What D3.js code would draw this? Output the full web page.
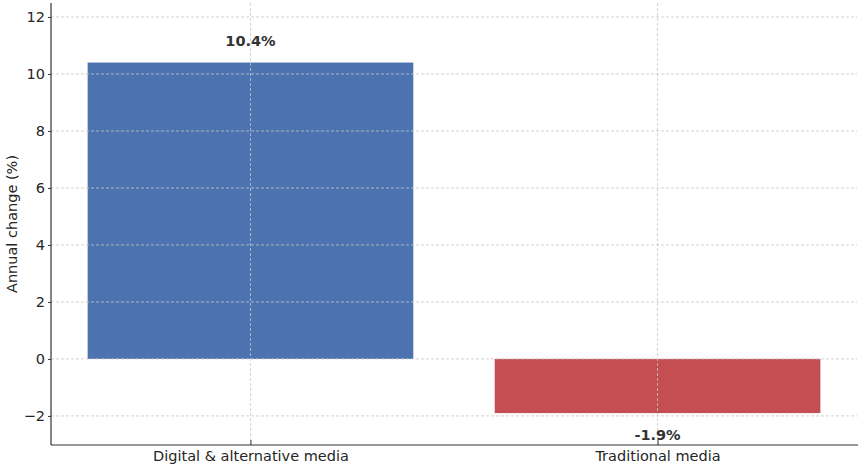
<!DOCTYPE html>
<html><head><meta charset="utf-8">
<script src="https://cdn.jsdelivr.net/npm/d3@7"></script>
<style>body{margin:0;background:#fff}svg{display:block}text{font-family:"DejaVu Sans",sans-serif}</style>
</head><body>
<svg id="c" width="858" height="467"></svg>
<script>
const categories = ["Digital & alternative media", "Traditional media"];
const values = [10.4, -1.9];
const labels = ["10.4%", "-1.9%"];
const colors = ["#4C72B0", "#C44E52"];
const yTicks = [-2, 0, 2, 4, 6, 8, 10, 12];

const svg = d3.select("#c");
const L = 51, R = 857, T = 3, B = 445;
const x = d3.scaleLinear().domain([-0.49, 1.49]).range([L, R]);
const y = d3.scaleLinear().domain([-3.02, 12.49]).range([B, T]);
const bw = 0.8;

// bars
svg.append("g").selectAll("rect").data(values).join("rect")
  .attr("x", (d, i) => x(i - bw / 2))
  .attr("width", (d, i) => x(i + bw / 2) - x(i - bw / 2))
  .attr("y", d => y(Math.max(0, d)))
  .attr("height", d => Math.abs(y(d) - y(0)))
  .attr("fill", (d, i) => colors[i]);

// grid
const grid = svg.append("g").attr("stroke", "#c8c8c8").attr("stroke-width", 0.8).attr("stroke-dasharray", "3,2");
grid.selectAll("line.h").data(yTicks).join("line").attr("class", "h")
  .attr("x1", L).attr("x2", R).attr("y1", d => y(d)).attr("y2", d => y(d));
grid.selectAll("line.v").data(categories).join("line").attr("class", "v")
  .attr("x1", (d, i) => x(i)).attr("x2", (d, i) => x(i)).attr("y1", T).attr("y2", B);

// axes
const yAxis = d3.axisLeft(y).tickValues(yTicks).tickSize(3).tickPadding(3)
  .tickFormat(d => d < 0 ? "\u2212" + Math.abs(d) : d);
const gy = svg.append("g").attr("transform", `translate(${L},0)`).call(yAxis);
gy.select(".domain").remove();
gy.selectAll("line").attr("stroke", "#333");
gy.selectAll("text").attr("font-size", 14.5).attr("fill", "#262626");

const xAxis = d3.axisBottom(x).tickValues([0, 1]).tickSize(-5).tickPadding(6)
  .tickFormat(i => categories[i]);
const gx = svg.append("g").attr("transform", `translate(0,${B})`).call(xAxis);
gx.select(".domain").remove();
gx.selectAll("line").attr("stroke", "#333");
gx.selectAll("text").attr("font-size", 14.5).attr("fill", "#262626");

// spines
svg.append("line").attr("x1", L).attr("x2", L).attr("y1", T).attr("y2", B).attr("stroke", "#333").attr("stroke-width", 1.2);
svg.append("line").attr("x1", L).attr("x2", R + 1).attr("y1", B).attr("y2", B).attr("stroke", "#333").attr("stroke-width", 1.2);

// value labels
svg.append("g").selectAll("text").data(values).join("text")
  .attr("x", (d, i) => x(i))
  .attr("y", d => d >= 0 ? y(d) - 17 : y(d) + 27)
  .attr("text-anchor", "middle")
  .attr("font-size", 14.5).attr("font-weight", "bold").attr("fill", "#333")
  .text((d, i) => labels[i]);

// y label
svg.append("text").attr("transform", `translate(17,${(T + B) / 2}) rotate(-90)`)
  .attr("text-anchor", "middle").attr("font-size", 14.5).attr("fill", "#262626")
  .text("Annual change (%)");
</script>
</body></html>
